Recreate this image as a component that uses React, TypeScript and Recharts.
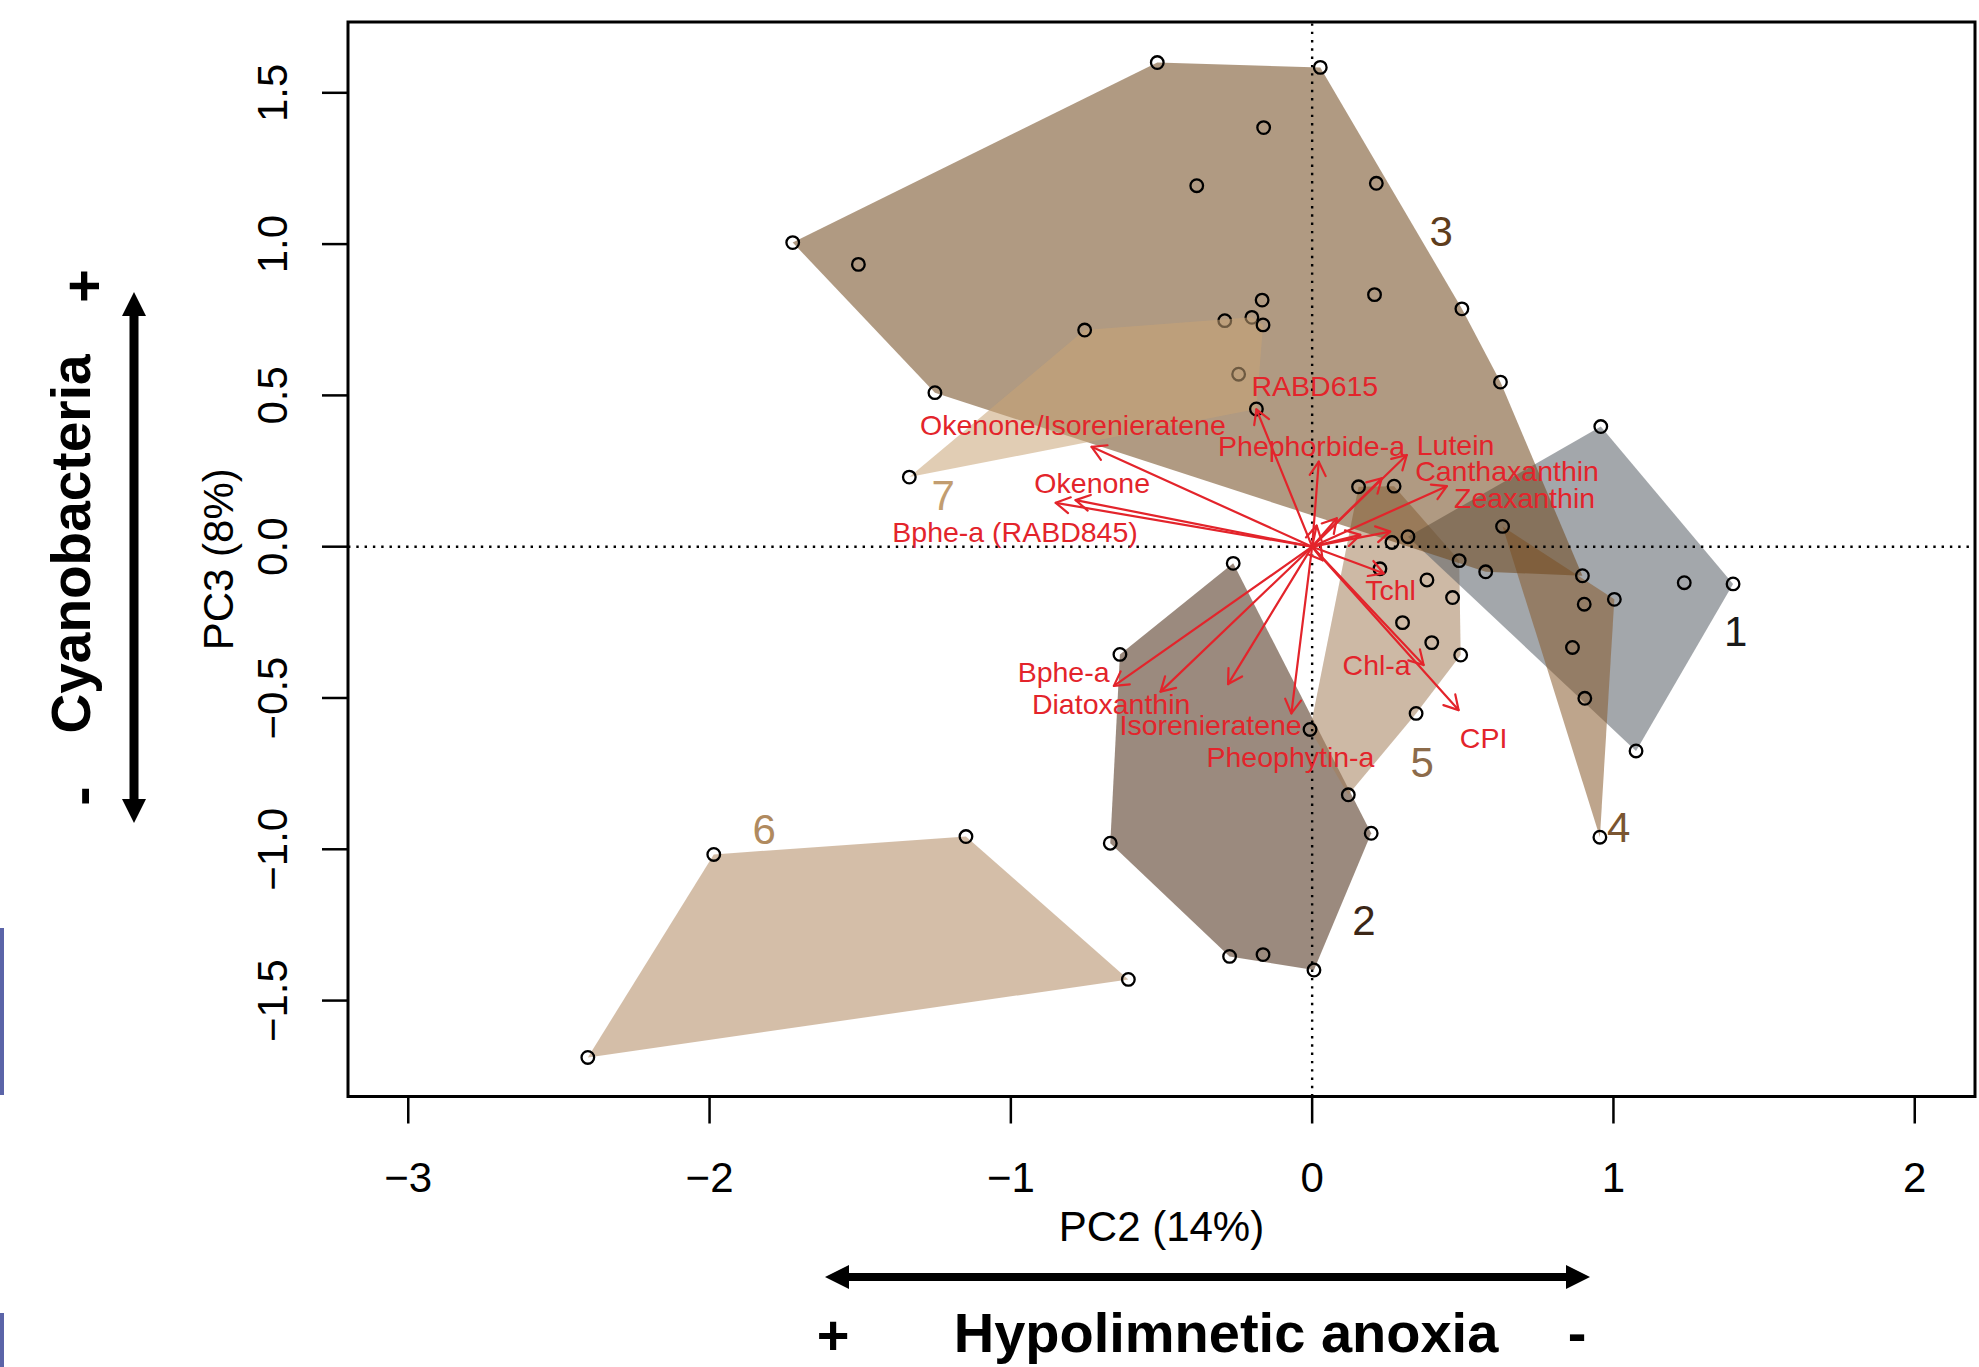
import React from "react";
import { ReferenceArea, Scatter, ScatterChart, XAxis, YAxis } from "recharts";

// axes
const X_DOMAIN: [number, number] = [-3.2, 2.2];
const Y_DOMAIN: [number, number] = [-1.817, 1.734];
const xTicks = [-3, -2, -1, 0, 1, 2];
const yTicks = [-1.5, -1, -0.5, 0, 0.5, 1, 1.5];

// sample scores (PC2, PC3) per cluster
const group1 = [[0.318, 0.033], [0.958, 0.397], [1.397, -0.123], [1.075, -0.675], [1.235, -0.119]];
const group2 = [[-0.262, -0.055], [-0.638, -0.356], [-0.67, -0.98], [-0.274, -1.354], [-0.163, -1.348], [0.006, -1.399], [0.196, -0.947]];
const group3 = [
  [-1.724, 1.005], [-0.514, 1.6], [0.027, 1.584], [-0.161, 1.385], [-0.383, 1.193], [0.213, 1.201], [-1.506, 0.933],
  [0.207, 0.833], [0.497, 0.786], [-0.166, 0.815], [0.625, 0.544], [-1.252, 0.509], [0.897, -0.096], [0.576, -0.083]
];
const group4 = [[0.632, 0.067], [1.003, -0.174], [0.955, -0.96], [0.903, -0.19], [0.864, -0.333], [0.905, -0.501]];
const group5 = [
  [0.154, 0.198], [0.272, 0.2], [0.488, -0.046], [0.493, -0.358], [0.345, -0.551], [0.12, -0.82], [-0.007, -0.604],
  [0.265, 0.014], [0.225, -0.073], [0.381, -0.11], [0.466, -0.168], [0.3, -0.251], [0.397, -0.317]
];
const group6 = [[-1.986, -1.017], [-1.149, -0.958], [-0.61, -1.43], [-2.404, -1.688]];
const group7 = [[-1.337, 0.23], [-0.755, 0.716], [-0.29, 0.747], [-0.2, 0.758], [-0.163, 0.733], [-0.244, 0.57], [-0.185, 0.455]];

// points that sit under the cluster 7 hull (drawn before it)
const coveredPoints = [[-0.29, 0.747], [-0.2, 0.758], [-0.244, 0.57]];

const groupNames = ["1", "2", "3", "4", "5", "6", "7"];
const groupColors = ["#575f66", "#492a14", "#6f471b", "#885b2d", "#a47f5b", "#b08860", "#c8a476"];
const groupLabelColors = ["#1a1a1a", "#3b2616", "#5e3d1c", "#7a5531", "#8c6b4a", "#b08a5f", "#c29d70"];
const groupLabelPos = [[1.406, -0.279], [0.172, -1.234], [0.428, 1.043], [1.017, -0.925], [0.365, -0.712], [-1.819, -0.933], [-1.225, 0.172]];
const drawOrder = [5, 1, 4, 0, 3, 2]; // cluster 7 goes after the covered points

// loadings (arrow tips) and their text positions
const loadingNames = [
  "Okenone/Isorenieratene", "Okenone", "Bphe-a (RABD845)", "RABD615", "Phephorbide-a", "Lutein", "Canthaxanthin",
  "Zeaxanthin", "Tchl", "Chl-a", "CPI", "Pheophytin-a", "Isorenieratene", "Diatoxanthin", "Bphe-a"
];
const loadingEnds = [
  [-0.732, 0.33], [-0.785, 0.154], [-0.851, 0.145], [-0.185, 0.454], [0.022, 0.281], [0.314, 0.303], [0.447, 0.2],
  [0.259, 0.05], [0.237, -0.088], [0.37, -0.391], [0.486, -0.54], [-0.069, -0.551], [-0.279, -0.454], [-0.503, -0.479], [-0.658, -0.46]
];
const loadingLabelPos = [
  [-0.794, 0.402], [-0.73, 0.2115], [-0.986, 0.05], [0.009, 0.532], [-0.002, 0.334], [0.476, 0.338], [0.647, 0.251],
  [0.705, 0.163], [0.26, -0.143], [0.214, -0.391], [0.569, -0.633], [-0.072, -0.694], [-0.337, -0.589], [-0.667, -0.518], [-0.825, -0.413]
];
// short unlabeled loadings near the origin
const minorEnds = [[0.231, 0.226], [0.16, 0.039], [0.082, 0.094], [0.015, 0.07], [0.035, -0.045]];

const FONT = '"Liberation Sans", Arial, Helvetica, sans-serif';
const RED = "#e3242b";
const ALPHA = 0.55;

const allGroups = [group1, group2, group3, group4, group5, group6, group7];
const isCovered = (p: number[]) => coveredPoints.some((c) => c[0] === p[0] && c[1] === p[1]);
const openPoints = allGroups.flat().filter((p) => !isCovered(p)).map(([x, y]) => ({ x, y }));
const coveredData = coveredPoints.map(([x, y]) => ({ x, y }));

function convexHull(pts: number[][]) {
  const s = [...pts].sort((a, b) => a[0] - b[0] || a[1] - b[1]);
  const cross = (o: number[], a: number[], b: number[]) => (a[0] - o[0]) * (b[1] - o[1]) - (a[1] - o[1]) * (b[0] - o[0]);
  const lower: number[][] = [];
  const upper: number[][] = [];
  for (const p of s) {
    while (lower.length >= 2 && cross(lower[lower.length - 2], lower[lower.length - 1], p) <= 0) lower.pop();
    lower.push(p);
  }
  for (let i = s.length - 1; i >= 0; i--) {
    const p = s[i];
    while (upper.length >= 2 && cross(upper[upper.length - 2], upper[upper.length - 1], p) <= 0) upper.pop();
    upper.push(p);
  }
  return lower.slice(0, -1).concat(upper.slice(0, -1)).map(([x, y]) => ({ x, y }));
}

const hulls = allGroups.map(convexHull);

const noShape = () => <g />;

const polygonLine = (fill: string) => (p: any) => {
  const pts = p.points as { x: number; y: number }[];
  const d = pts.map((q, i) => `${i ? "L" : "M"}${q.x},${q.y}`).join("") + "Z";
  return <path d={d} fill={fill} fillOpacity={ALPHA} stroke="none" />;
};

const arrowLine = (p: any) => {
  const [a, b] = p.points as { x: number; y: number }[];
  const ang = Math.atan2(b.y - a.y, b.x - a.x);
  const len = 16;
  const h = Math.PI / 6;
  const w1 = [b.x - len * Math.cos(ang - h), b.y - len * Math.sin(ang - h)];
  const w2 = [b.x - len * Math.cos(ang + h), b.y - len * Math.sin(ang + h)];
  return (
    <g stroke={RED} strokeWidth={2.2} fill="none" strokeLinecap="round" strokeLinejoin="round">
      <line x1={a.x} y1={a.y} x2={b.x} y2={b.y} />
      <polyline points={`${w1[0]},${w1[1]} ${b.x},${b.y} ${w2[0]},${w2[1]}`} />
    </g>
  );
};

const dottedLine = (p: any) => {
  const [a, b] = p.points as { x: number; y: number }[];
  return <line x1={a.x} y1={a.y} x2={b.x} y2={b.y} stroke="#000" strokeWidth={2.4} strokeDasharray="2.4 5.9" />;
};

const circleShape = (stroke: string) => (p: any) => (
  <circle cx={p.cx} cy={p.cy} r={6.3} fill="none" stroke={stroke} strokeWidth={2.3} />
);

const textShape = (size: number) => (p: any) => (
  <text
    x={p.cx}
    y={p.cy + size * 0.36}
    textAnchor="middle"
    fontFamily={FONT}
    fontSize={size}
    fill={p.payload.color}
  >
    {p.payload.label}
  </text>
);

const fmt = (v: number, digits: number) => (v < 0 ? "\u2212" : "") + Math.abs(v).toFixed(digits);

const XTick = (p: any) => (
  <text x={p.x} y={p.y + 66} textAnchor="middle" fontFamily={FONT} fontSize={42} fill="#000">
    {fmt(p.payload.value, 0)}
  </text>
);

const YTick = (p: any) => {
  const bx = p.x - 33;
  return (
    <text x={bx} y={p.y} transform={`rotate(-90 ${bx} ${p.y})`} textAnchor="middle" fontFamily={FONT} fontSize={42} fill="#000">
      {fmt(p.payload.value, 1)}
    </text>
  );
};

const xLabel = (p: any) => {
  const vb = p.viewBox;
  return (
    <text x={vb.x + vb.width / 2} y={vb.y + 144.5} textAnchor="middle" fontFamily={FONT} fontSize={42} fill="#000">
      PC2 (14%)
    </text>
  );
};

const yLabel = (p: any) => {
  const vb = p.viewBox;
  const bx = 233;
  const cy = vb.y + vb.height / 2;
  return (
    <text x={bx} y={cy} transform={`rotate(-90 ${bx} ${cy})`} textAnchor="middle" fontFamily={FONT} fontSize={42} fill="#000">
      PC3 (8%)
    </text>
  );
};

const loadingLabels = loadingNames.map((label, i) => ({ x: loadingLabelPos[i][0], y: loadingLabelPos[i][1], label, color: RED }));
const groupLabels = groupNames.map((label, i) => ({ x: groupLabelPos[i][0], y: groupLabelPos[i][1], label, color: groupLabelColors[i] }));
const arrows = [...loadingEnds, ...minorEnds].map(([x, y]) => [{ x: 0, y: 0 }, { x, y }]);

function Annotations() {
  return (
    <svg width={1979} height={1367} style={{ position: "absolute", left: 0, top: 0, pointerEvents: "none" }}>
      <rect x={0} y={928} width={4} height={167} fill="#5b64a8" />
      <rect x={0} y={1313} width={4} height={54} fill="#5b64a8" />

      {/* vertical: Cyanobacteria */}
      <rect x={129.5} y={310} width={9} height={495} fill="#000" />
      <polygon points="134,292 122,316 146,316" fill="#000" />
      <polygon points="134,823 122,799 146,799" fill="#000" />
      <text x={90} y={544} transform="rotate(-90 90 544)" textAnchor="middle" fontFamily={FONT} fontWeight="bold" fontSize={55} fill="#000">
        Cyanobacteria
      </text>
      <text x={104} y={286} transform="rotate(-90 104 286)" textAnchor="middle" fontFamily={FONT} fontWeight="bold" fontSize={58} fill="#000">
        +
      </text>
      <text x={101} y={796} transform="rotate(-90 101 796)" textAnchor="middle" fontFamily={FONT} fontWeight="bold" fontSize={58} fill="#000">
        -
      </text>

      {/* horizontal: Hypolimnetic anoxia */}
      <rect x={840} y={1273} width={735} height={8} fill="#000" />
      <polygon points="825,1277 849,1265 849,1289" fill="#000" />
      <polygon points="1590,1277 1566,1265 1566,1289" fill="#000" />
      <text x={833} y={1354} textAnchor="middle" fontFamily={FONT} fontWeight="bold" fontSize={56} fill="#000">
        +
      </text>
      <text x={1226} y={1352} textAnchor="middle" fontFamily={FONT} fontWeight="bold" fontSize={56} fill="#000">
        Hypolimnetic anoxia
      </text>
      <text x={1577} y={1352} textAnchor="middle" fontFamily={FONT} fontWeight="bold" fontSize={56} fill="#000">
        -
      </text>
    </svg>
  );
}

export default function App() {
  return (
    <div style={{ position: "absolute", left: 0, top: 0, width: 1979, height: 1367, background: "#fff" }}>
      <ScatterChart width={1979} height={1367} margin={{ top: 22, right: 4, bottom: 0, left: 0 }}>
        <XAxis
          type="number"
          dataKey="x"
          domain={X_DOMAIN}
          ticks={xTicks}
          allowDataOverflow
          height={270.5}
          axisLine={false}
          tickSize={27}
          tickLine={{ stroke: "#000", strokeWidth: 2.5 }}
          tick={XTick}
          label={xLabel}
        />
        <YAxis
          type="number"
          dataKey="y"
          domain={Y_DOMAIN}
          ticks={yTicks}
          allowDataOverflow
          width={348}
          axisLine={false}
          tickSize={26}
          tickLine={{ stroke: "#000", strokeWidth: 2.5 }}
          tick={YTick}
          label={yLabel}
        />

        {drawOrder.map((g) => (
          <Scatter
            key={`hull-${g}`}
            data={hulls[g]}
            line={polygonLine(groupColors[g])}
            lineType="joint"
            shape={noShape}
            isAnimationActive={false}
          />
        ))}
        <Scatter data={coveredData} shape={circleShape("#000")} isAnimationActive={false} />
        <Scatter data={hulls[6]} line={polygonLine(groupColors[6])} lineType="joint" shape={noShape} isAnimationActive={false} />

        <Scatter data={[{ x: 0, y: Y_DOMAIN[0] }, { x: 0, y: Y_DOMAIN[1] }]} line={dottedLine} lineType="joint" shape={noShape} isAnimationActive={false} />
        <Scatter data={[{ x: X_DOMAIN[0], y: 0 }, { x: X_DOMAIN[1], y: 0 }]} line={dottedLine} lineType="joint" shape={noShape} isAnimationActive={false} />

        <Scatter data={openPoints} shape={circleShape("#000")} isAnimationActive={false} />

        {arrows.map((d, i) => (
          <Scatter key={`arrow-${i}`} data={d} line={arrowLine} lineType="joint" shape={noShape} isAnimationActive={false} />
        ))}

        <Scatter data={loadingLabels} shape={textShape(28.5)} isAnimationActive={false} />
        <Scatter data={groupLabels} shape={textShape(42)} isAnimationActive={false} />

        <ReferenceArea
          x1={X_DOMAIN[0]}
          x2={X_DOMAIN[1]}
          y1={Y_DOMAIN[0]}
          y2={Y_DOMAIN[1]}
          fill="none"
          fillOpacity={0}
          stroke="#000"
          strokeWidth={3}
        />
      </ScatterChart>
      <Annotations />
    </div>
  );
}
